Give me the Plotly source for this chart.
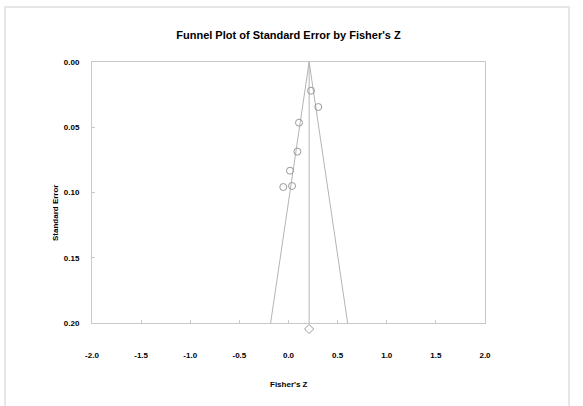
import plotly.graph_objects as go

# Study points (Fisher's Z, standard error)
study_z = [0.229, 0.303, 0.107, 0.090, 0.015, -0.053, 0.036]
study_se = [0.022, 0.0345, 0.0465, 0.0687, 0.0833, 0.0958, 0.095]

# Summary effect
summary_z = 0.21
summary_se_marker = 0.2046

# Funnel limits
funnel_se = [0.0, 0.2]
funnel_mult = 1.96

x_ticks = [-2.0, -1.5, -1.0, -0.5, 0.0, 0.5, 1.0, 1.5, 2.0]
y_ticks = [0.00, 0.05, 0.10, 0.15, 0.20]

line_col = "#c8c8c8"
font_fam = "Liberation Sans, Arial, sans-serif"

W, H = 583, 406
PL, PR, PT, PB = 92, 485, 62, 340   # paper area in pixels
AX_BOTTOM = 323                      # pixel of the main x axis
ph = PB - PT
pw = PR - PL
split = (PB - AX_BOTTOM) / ph
se_per_px = 0.2 / (AX_BOTTOM - PT)

fig = go.Figure()

left_x = [summary_z - funnel_mult * s for s in funnel_se]
right_x = [summary_z + funnel_mult * s for s in funnel_se]
for xs in (left_x, right_x, [summary_z, summary_z]):
    fig.add_trace(go.Scatter(x=xs, y=funnel_se, mode="lines",
                             line=dict(color="#b4b4b4", width=1), showlegend=False, hoverinfo="skip"))

fig.add_trace(go.Scatter(x=study_z, y=study_se, mode="markers",
                         marker=dict(symbol="circle-open", size=7, color="#9a9a9a", line=dict(width=1)),
                         showlegend=False))
# summary diamond on a strip just below the main axis, same scale
fig.add_trace(go.Scatter(x=[summary_z], y=[summary_se_marker], mode="markers", xaxis="x2", yaxis="y2",
                         marker=dict(symbol="diamond-open", size=7, color="#9a9a9a", line=dict(width=1)),
                         showlegend=False))

fig.update_layout(
    width=W, height=H,
    margin=dict(l=PL, r=W - PR, t=PT, b=H - PB, autoexpand=False),
    paper_bgcolor="white", plot_bgcolor="white",
    title=dict(text="Funnel Plot of Standard Error by Fisher's Z", x=0.5, xanchor="center",
               y=1 - 35 / H, yanchor="middle", xref="paper",
               font=dict(family=font_fam, size=11, color="black", weight="bold")),
    font=dict(family=font_fam, color="black"),
    shapes=[dict(type="rect", xref="paper", yref="paper",
                 x0=(5 - PL) / pw, x1=(569 - PL) / pw, y0=(PB - 420) / ph, y1=(PB - 7) / ph,
                 line=dict(color="#e6e6e6", width=2), layer="below")],
    annotations=[
        dict(text="Fisher's Z", xref="paper", yref="paper", x=0.5, y=(PB - 385) / ph,
             xanchor="center", yanchor="middle", showarrow=False,
             font=dict(size=8, family=font_fam, weight="bold")),
        dict(text="Standard Error", xref="paper", yref="paper", x=(55 - PL) / pw, y=(PB - 213) / ph,
             xanchor="center", yanchor="middle", textangle=-90, showarrow=False,
             font=dict(size=8, family=font_fam, weight="bold")),
    ],
    xaxis=dict(range=[-2, 2], tickvals=x_ticks, ticktext=[f"{v:.1f}" for v in x_ticks],
               showgrid=False, zeroline=False, showline=True, linecolor=line_col, linewidth=1,
               mirror=True, ticks="inside", ticklen=3, tickcolor=line_col,
               ticklabelstandoff=24, automargin=False, anchor="y",
               tickfont=dict(size=8, family=font_fam, weight="bold")),
    yaxis=dict(range=[0.2, 0.0], tickvals=y_ticks, ticktext=[f"{v:.2f}" for v in y_ticks],
               domain=[split, 1],
               showgrid=False, zeroline=False, showline=True, linecolor=line_col, linewidth=1,
               mirror=True, ticks="inside", ticklen=3, tickcolor=line_col,
               ticklabelstandoff=10, automargin=False, anchor="x",
               tickfont=dict(size=8, family=font_fam, weight="bold")),
    xaxis2=dict(range=[-2, 2], visible=False, anchor="y2", showgrid=False, zeroline=False),
    yaxis2=dict(range=[0.2 + (PB - AX_BOTTOM) * se_per_px, 0.2], domain=[0, split], visible=False,
                anchor="x2", showgrid=False, zeroline=False),
)

fig.write_html("out.html", config={"displayModeBar": False},
               post_script="document.body.style.margin='0';")
